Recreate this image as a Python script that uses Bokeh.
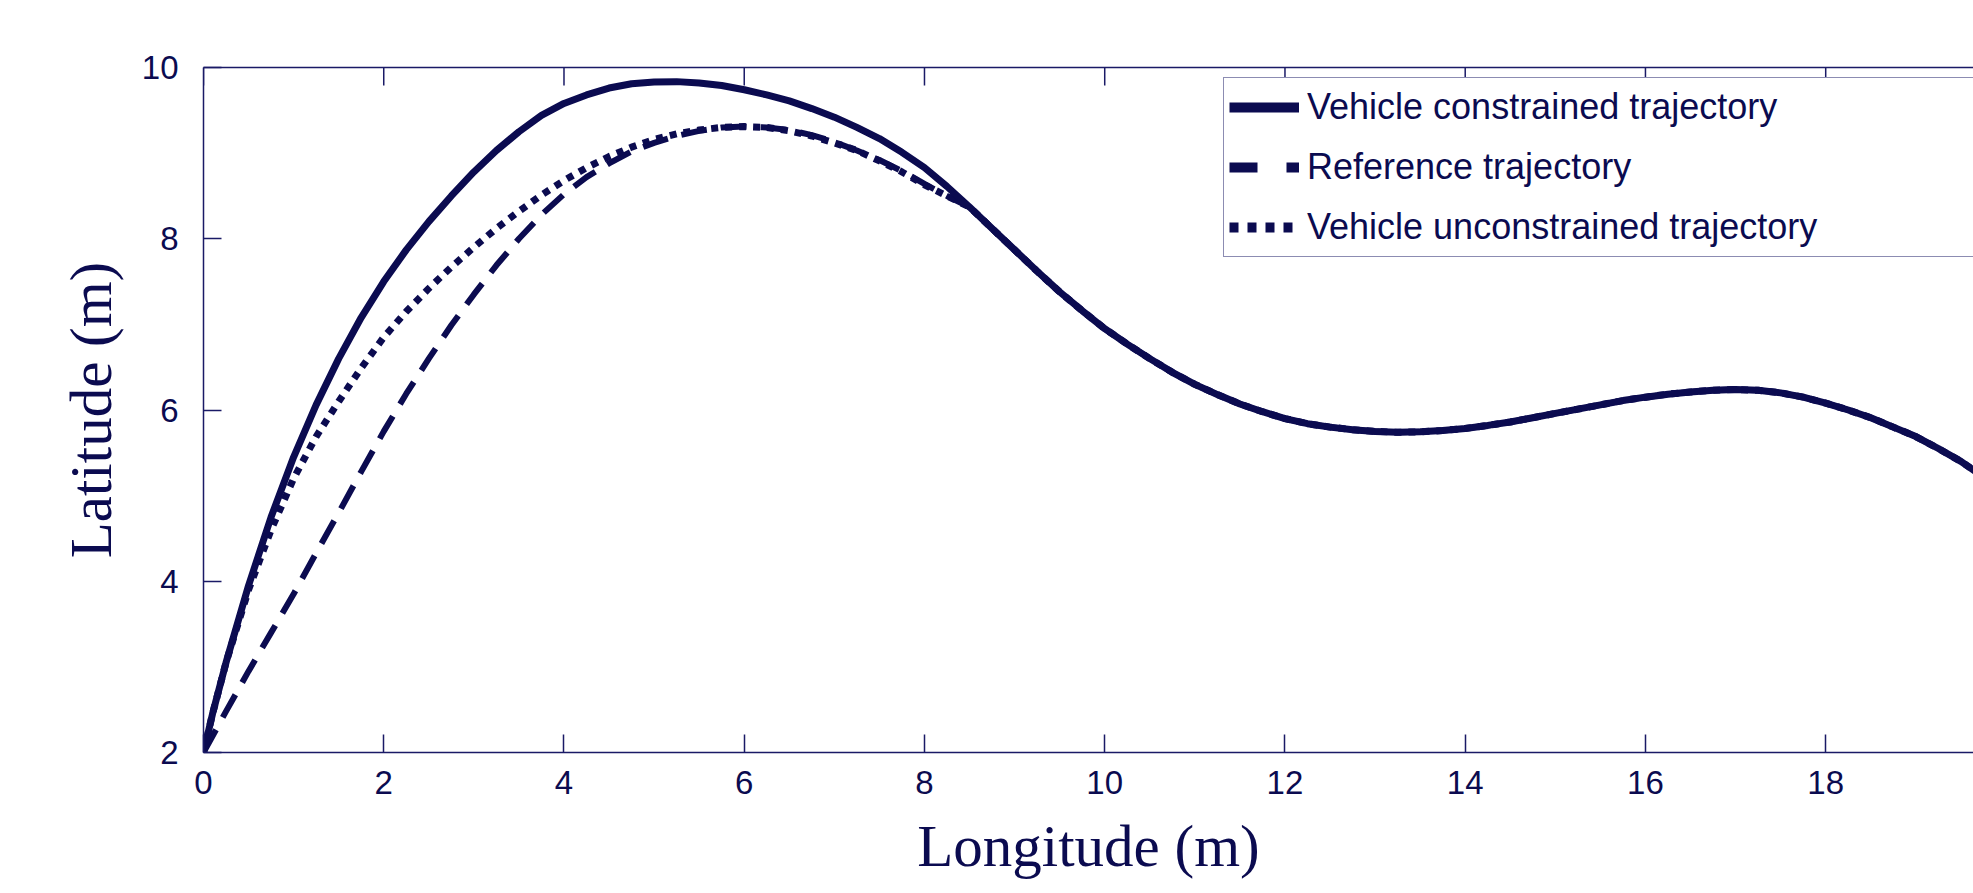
import numpy as np
from bokeh.plotting import figure
from bokeh.models import Range1d, LinearAxis, Legend, LegendItem, FixedTicker
from bokeh.embed import file_html
from bokeh.resources import INLINE

# ---- data ----
x_ticks = [0, 2, 4, 6, 8, 10, 12, 14, 16, 18]
y_ticks = [2, 4, 6, 8, 10]

# common part of all three trajectories after they merge
tail_x = [8.5, 8.75, 9.0, 9.25, 9.5, 9.75, 10.0, 10.25, 10.5, 10.75, 11.0, 11.25,
          11.5, 11.75, 12.0, 12.25, 12.5, 12.75, 13.0, 13.25, 13.5, 13.75, 14.0,
          14.25, 14.5, 14.75, 15.0, 15.25, 15.5, 15.75, 16.0, 16.25, 16.5, 16.75,
          17.0, 17.25, 17.5, 17.75, 18.0, 18.25, 18.5, 18.75, 19.0, 19.25, 19.5, 19.75]
tail_y = [8.37, 8.12, 7.87, 7.62, 7.38, 7.16, 6.95, 6.77, 6.60, 6.44, 6.30, 6.18,
          6.07, 5.98, 5.90, 5.84, 5.80, 5.77, 5.75, 5.74, 5.745, 5.76, 5.785,
          5.82, 5.86, 5.91, 5.96, 6.01, 6.06, 6.11, 6.15, 6.185, 6.21, 6.23,
          6.24, 6.23, 6.20, 6.15, 6.08, 6.00, 5.91, 5.80, 5.69, 5.55, 5.40, 5.22]

constrained_head_x = [0.0, 0.1, 0.25, 0.5, 0.75, 1.0, 1.25, 1.5, 1.75, 2.0, 2.25, 2.5,
                      2.75, 3.0, 3.25, 3.5, 3.75, 4.0, 4.25, 4.5, 4.75, 5.0, 5.25, 5.5,
                      5.75, 6.0, 6.25, 6.5, 6.75, 7.0, 7.25, 7.5, 7.75, 8.0, 8.25]
constrained_head_y = [2.0, 2.45, 3.05, 3.95, 4.75, 5.45, 6.06, 6.60, 7.08, 7.50, 7.87, 8.20,
                      8.50, 8.78, 9.03, 9.25, 9.44, 9.58, 9.68, 9.76, 9.81, 9.83, 9.835, 9.82,
                      9.79, 9.74, 9.68, 9.61, 9.52, 9.42, 9.30, 9.17, 9.01, 8.83, 8.61]

reference_head_x = [0.0, 0.25, 0.5, 0.75, 1.0, 1.25, 1.5, 1.75, 2.0, 2.25, 2.5, 2.75,
                    3.0, 3.25, 3.5, 3.75, 4.0, 4.25, 4.5, 4.75, 5.0, 5.25, 5.5, 5.75,
                    6.0, 6.25, 6.5, 6.75, 7.0, 7.25, 7.5, 7.75, 8.0, 8.25]
reference_head_y = [2.0, 2.48, 2.95, 3.40, 3.85, 4.33, 4.80, 5.28, 5.75, 6.19, 6.60, 6.99,
                    7.35, 7.69, 8.00, 8.28, 8.52, 8.72, 8.88, 9.02, 9.12, 9.20, 9.26, 9.30,
                    9.31, 9.30, 9.27, 9.21, 9.13, 9.03, 8.92, 8.79, 8.64, 8.50]

unconstrained_head_x = [0.0, 0.1, 0.25, 0.5, 0.75, 1.0, 1.25, 1.5, 1.75, 2.0, 2.25, 2.5,
                        2.75, 3.0, 3.25, 3.5, 3.75, 4.0, 4.25, 4.5, 4.75, 5.0, 5.25, 5.5,
                        5.75, 6.0, 6.25, 6.5, 6.75, 7.0, 7.25, 7.5, 7.75, 8.0, 8.25]
unconstrained_head_y = [2.0, 2.45, 3.05, 3.90, 4.60, 5.20, 5.69, 6.10, 6.49, 6.85, 7.15, 7.42,
                        7.67, 7.90, 8.12, 8.32, 8.51, 8.68, 8.83, 8.96, 9.07, 9.16, 9.225, 9.27,
                        9.30, 9.31, 9.30, 9.26, 9.20, 9.12, 9.03, 8.91, 8.78, 8.63, 8.50]

series_names = ["Vehicle constrained trajectory", "Reference trajectory",
                "Vehicle unconstrained trajectory"]

NAVY = "#0b0b50"
AXIS = "#1a1a66"
TICK_LEN_PX = 18

p = figure(width=1973, height=893, output_backend="svg", toolbar_location=None,
           x_range=Range1d(0, 19.64), y_range=Range1d(2, 10),
           min_border_left=203, min_border_right=0, min_border_top=67,
           min_border_bottom=141)
p.outline_line_color = None
p.xgrid.visible = False
p.ygrid.visible = False
p.background_fill_color = "white"
p.border_fill_color = "white"

r_ref = p.line(reference_head_x + tail_x, reference_head_y + tail_y,
               line_color=NAVY, line_width=6, line_dash="26 14")
r_unc = p.line(unconstrained_head_x + tail_x, unconstrained_head_y + tail_y,
               line_color=NAVY, line_width=7, line_dash="7 7")
r_con = p.line(constrained_head_x + tail_x, constrained_head_y + tail_y,
               line_color=NAVY, line_width=7)

# legend-only glyphs (thicker, as in the reference legend); a single NaN point draws nothing
NAN = [float("nan")]
l_con = p.line(NAN, NAN, line_color=NAVY, line_width=10)
l_ref = p.line(NAN, NAN, line_color=NAVY, line_width=10, line_dash="28 29")
l_unc = p.line(NAN, NAN, line_color=NAVY, line_width=10, line_dash="9 9")

for ax, ticks in ((p.xaxis[0], x_ticks), (p.yaxis[0], y_ticks)):
    ax.ticker = FixedTicker(ticks=ticks)
    ax.major_tick_in = TICK_LEN_PX
    ax.major_tick_out = 0
    ax.minor_tick_line_color = None
    ax.major_tick_line_color = AXIS
    ax.major_tick_line_width = 1.5
    ax.axis_line_color = AXIS
    ax.axis_line_width = 1.5
    ax.major_label_text_font = "Liberation Sans"
    ax.major_label_text_font_size = "33px"
    ax.major_label_text_color = NAVY
    ax.axis_label_text_font = "Liberation Serif"
    ax.axis_label_text_font_size = "59px"
    ax.axis_label_text_font_style = "normal"
    ax.axis_label_text_color = NAVY

p.xaxis.axis_label = "Longitude (m)"
p.yaxis.axis_label = "Latitude (m)"
p.xaxis.major_label_standoff = 18
p.yaxis.major_label_standoff = 25
p.xaxis.axis_label_standoff = 16
p.yaxis.axis_label_standoff = 15

# top frame line (no labels) + inward ticks on the top edge
top = LinearAxis(ticker=FixedTicker(ticks=[]), major_tick_line_color=None,
                 minor_tick_line_color=None, axis_line_color=AXIS, axis_line_width=1.5)
p.add_layout(top, "above")
y_top = y_ticks[-1]
tick_len_data = TICK_LEN_PX * (y_ticks[-1] - y_ticks[0]) / 685.3
p.segment(x0=x_ticks, y0=[y_top] * len(x_ticks), x1=x_ticks,
          y1=[y_top - tick_len_data] * len(x_ticks), line_color=AXIS, line_width=1.5)

legend = Legend(items=[LegendItem(label=series_names[0], renderers=[l_con]),
                       LegendItem(label=series_names[1], renderers=[l_ref]),
                       LegendItem(label=series_names[2], renderers=[l_unc])],
                location=(1020, 495), margin=0, padding=5, spacing=12,
                glyph_width=70, glyph_height=48, label_height=48, label_standoff=8,
                label_width=720,
                label_text_font="Liberation Sans", label_text_font_size="36px",
                label_text_color=NAVY, border_line_color=AXIS, border_line_width=1.5,
                background_fill_color="white", background_fill_alpha=1.0)
p.add_layout(legend)

open("out.html", "w").write(file_html(p, INLINE))
